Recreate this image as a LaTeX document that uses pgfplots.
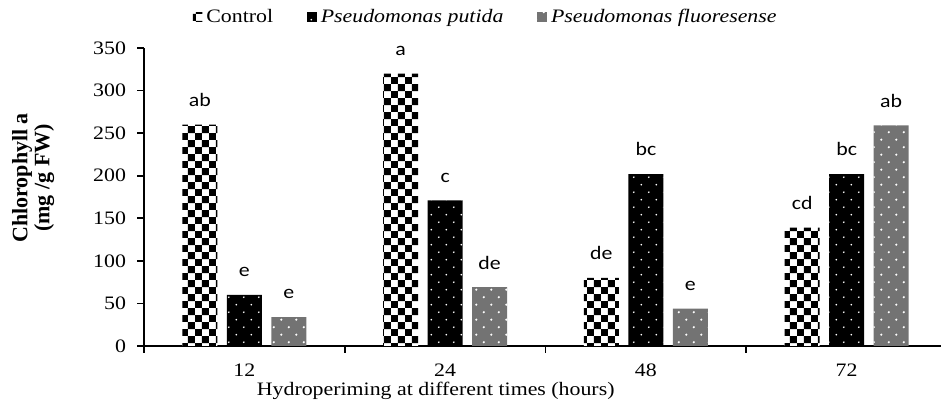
\documentclass[border=0pt]{standalone}
\usepackage{pgfplots}
\pgfplotsset{compat=1.18}
\usepackage{pgfplotstable}
\usepackage{fontspec}
\setmainfont{Liberation Serif}[FakeStretch=1.15]
\newfontfamily\ylabfont{Liberation Serif}
\newfontfamily\barfont{Carlito}[FakeStretch=1.15]
\usetikzlibrary{patterns}

\pgfdeclarepatternformonly{mychecker}{\pgfpointorigin}{\pgfqpoint{7pt}{7pt}}{\pgfqpoint{7pt}{7pt}}{%
  \pgfpathrectangle{\pgfpointorigin}{\pgfqpoint{3.5pt}{3.5pt}}%
  \pgfpathrectangle{\pgfqpoint{3.5pt}{3.5pt}}{\pgfqpoint{3.5pt}{3.5pt}}%
  \pgfusepath{fill}}
\pgfdeclarepatternformonly{mydots}{\pgfqpoint{-1pt}{-1pt}}{\pgfqpoint{8.5pt}{8.5pt}}{\pgfqpoint{7.5pt}{7.5pt}}{%
  \pgfpathcircle{\pgfqpoint{1.9pt}{1.9pt}}{0.45pt}%
  \pgfpathcircle{\pgfqpoint{5.65pt}{5.65pt}}{0.45pt}%
  \pgfusepath{fill}}
\pgfdeclarepatternformonly{mycross}{\pgfqpoint{-1pt}{-1pt}}{\pgfqpoint{8.5pt}{8.5pt}}{\pgfqpoint{7.5pt}{7.5pt}}{%
  \pgfpathcircle{\pgfqpoint{1.9pt}{1.9pt}}{0.6pt}%
  \pgfpathcircle{\pgfqpoint{5.65pt}{5.65pt}}{0.6pt}%
  \pgfusepath{fill}}

\pgfplotstableread{
x c cl p pl f fl
0 260 ab 60 e 34 e
1 320 a 171 c 69 de
2 80 de 202 bc 44 e
3 139 cd 202 bc 259 ab
}\datatable

\begin{document}
\begin{tikzpicture}
\begin{axis}[
  scale only axis, width=398.5pt, height=149pt,
  xmin=-0.5, xmax=3.47, ymin=0, ymax=350,
  ybar=4.75pt, bar width=17.5pt,
  axis x line*=bottom, axis y line*=left,
  axis line style={line width=1pt, black},
  xtick={0,1,2,3}, xticklabels={12,24,48,72},
  minor xtick={-0.5,0.5,1.5,2.5},
  major x tick style={draw=none},
  minor x tick style={line width=0.8pt, black},
  ytick={0,50,...,350},
  y tick style={line width=0.8pt, black},
  tick align=outside,
  major tick length=3.5pt, minor tick length=3.5pt,
  /pgf/number format/assume math mode=true,
  every tick label/.append style={font=\fontsize{9.5}{10}\selectfont},
  xticklabel style={yshift=-2pt},
  yticklabel style={xshift=-2pt},
  xlabel={Hydroperiming at different times (hours)},
  xlabel style={at={(axis description cs:0.366,-0.152)}, anchor=center, font=\fontsize{9.5}{10}\selectfont},
  ylabel={Chlorophyll a\\(mg /g FW)},
  ylabel style={at={(axis description cs:-0.139,0.564)}, anchor=center, align=center, font=\ylabfont\bfseries\fontsize{11}{8.5}\selectfont},
  legend style={at={(axis description cs:0.430,1.104)}, anchor=center, draw=none, fill=none, legend columns=-1, font=\fontsize{9.5}{10}\selectfont, /tikz/every even column/.append style={column sep=15pt}, /tikz/every odd column/.append style={column sep=0pt}},
  legend image code/.code={\draw[#1, draw=none] (0pt,-2.4pt) rectangle (4.8pt,2.4pt);},
  nodes near coords,
  point meta=explicit symbolic,
  every node near coord/.append style={font=\barfont\fontsize{9.5}{10}\selectfont, yshift=5.5pt},
]
\addplot[draw=none, fill=white, postaction={pattern=mychecker, pattern color=black}] table[x=x, y=c, meta=cl] {\datatable};
\addplot[draw=none, fill=black, postaction={pattern=mydots, pattern color=white}] table[x=x, y=p, meta=pl] {\datatable};
\addplot[draw=none, fill=black!55, postaction={pattern=mycross, pattern color=white}] table[x=x, y=f, meta=fl] {\datatable};
\legend{Control, \textit{Pseudomonas putida}, \textit{Pseudomonas fluoresense}}
\coordinate (bl) at (rel axis cs:-0.1807,-0.2013);
\coordinate (tr) at (rel axis cs:1.0,1.1611);
\end{axis}
\pgfresetboundingbox
\path (bl) rectangle (tr);
\end{tikzpicture}
\end{document}
